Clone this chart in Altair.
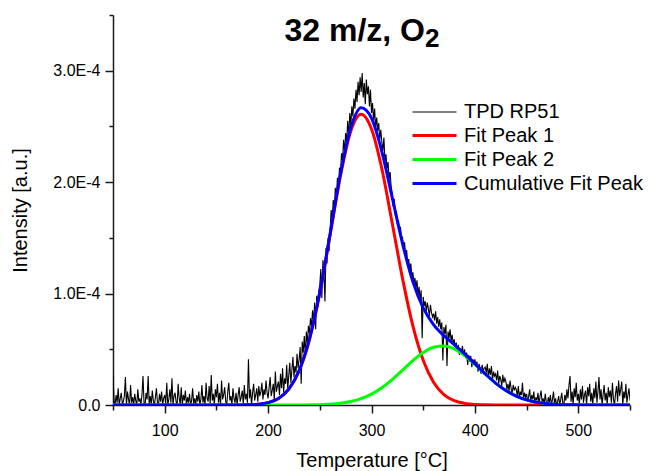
import altair as alt
import pandas as pd

FONT = "Liberation Sans"
UNIT = 1e-6  # all series below are in units of 1E-6 a.u.

# Measured TPD trace, one reading per degree from 50 to 550 °C
TPD_START = 50
TPD_RP51 = [
    27, 4, 0, 9, 2, 15, 0, 6, 11, 1,
    3, 8, 25, 0, 12, 5, 0, 18, 2, 7,
    0, 10, 4, 0, 14, 3, 6, 0, 9, 26,
    2, 0, 11, 5, 26, 1, 8, 0, 13, 4,
    0, 7, 15, 2, 0, 10, 3, 12, 0, 6,
    9, 1, 20, 0, 5, 14, 2, 24, 0, 8,
    11, 3, 0, 19, 6, 1, 16, 0, 9, 4,
    13, 0, 7, 2, 10, 0, 4, 15, 1, 6,
    0, 9, 3, 12, 0, 5, 18, 2, 8, 0,
    20, 6, 3, 17, 1, 27, 4, 10, 0, 14,
    7, 19, 2, 11, 0, 22, 5, 9, 16, 3,
    0, 12, 20, 4, 8, 0, 15, 6, 2, 11,
    0, 9, 16, 3, 7, 13, 1, 18, 5, 10,
    2, 41, 6, 14, 0, 11, 19, 4, 9, 15,
    3, 17, 8, 12, 20, 5, 14, 9, 22, 11,
    6, 16, 25, 8, 13, 19, 4, 30, 12, 17,
    21, 9, 28, 15, 33, 11, 24, 19, 36, 14,
    27, 38, 20, 31, 43, 25, 35, 29, 46, 33,
    41, 52, 19, 57, 47, 62, 44, 66, 55, 71,
    64, 78, 70, 85, 74, 92, 68, 98, 88, 102,
    108, 122, 96, 130, 118, 93, 141, 127, 150, 138,
    158, 175, 166, 184, 172, 195, 181, 204, 190, 213,
    208, 226, 219, 238, 227, 244, 236, 255, 241, 262,
    251, 268, 259, 275, 266, 283, 272, 290, 278, 294,
    281, 298, 276, 289, 270, 292, 279, 286, 268, 283,
    262, 271, 255, 266, 249, 258, 246, 253, 238, 247,
    236, 228, 240, 219, 225, 212, 218, 203, 209, 196,
    190, 178, 185, 170, 174, 162, 166, 155, 160, 148,
    150, 141, 146, 133, 139, 126, 131, 121, 127, 116,
    119, 110, 114, 105, 112, 98, 106, 94, 103, 60,
    97, 89, 93, 84, 92, 86, 80, 90, 83, 79,
    82, 76, 84, 73, 79, 70, 77, 68, 74, 40,
    70, 64, 72, 35, 66, 60, 68, 57, 63, 55,
    59, 52, 56, 48, 54, 45, 51, 47, 53, 44,
    50, 42, 47, 36, 45, 39, 44, 34, 41, 37,
    41, 35, 39, 30, 37, 33, 28, 36, 30, 33,
    34, 29, 37, 25, 33, 27, 35, 22, 30, 26,
    28, 22, 31, 19, 26, 23, 17, 27, 20, 24,
    21, 14, 19, 12, 22, 15, 10, 18, 13, 16,
    14, 8, 17, 6, 12, 9, 20, 5, 11, 7,
    10, 3, 8, 14, 2, 9, 5, 12, 0, 7,
    4, 11, 0, 8, 13, 2, 6, 0, 10, 3,
    0, 7, 2, 9, 0, 5, 12, 1, 6, 0,
    3, 8, 0, 5, 11, 2, 0, 9, 4, 14,
    6, 18, 26, 3, 12, 0, 15, 7, 20, 4,
    10, 0, 14, 5, 17, 2, 9, 13, 0, 16,
    8, 19, 3, 11, 0, 15, 6, 21, 2, 12,
    25, 5, 14, 0, 9, 18, 4, 11, 0, 16,
    7, 13, 2, 20, 5, 0, 10, 17, 3, 22,
    8, 14, 21, 0, 12, 6, 19, 2, 9, 15,
    4,
]

# Fit curves read every 10 °C from 50 to 550 °C
FIT_START, FIT_STEP = 50, 10
FIT_PEAK_1 = [
    0, 0, 0, 0, 0, 0, 0, 0, 0, 0, 0, 0,
    0.05, 0.2, 0.68, 2.1, 5.8, 14.2, 30.7, 59.0, 100.8, 152.9,
    205.7, 245.9, 261.0, 247.7, 212.0, 163.4, 113.6, 71.0, 40.1, 20.4,
    9.34, 3.86, 1.44, 0.48, 0.15, 0.04,
    0, 0, 0, 0, 0, 0, 0, 0, 0, 0, 0, 0, 0,
]
FIT_PEAK_2 = [
    0, 0, 0, 0, 0, 0, 0, 0, 0, 0, 0, 0, 0, 0, 0, 0, 0,
    0.02, 0.05, 0.13, 0.33, 0.75, 1.59, 3.13, 5.75, 9.79, 15.5,
    22.85, 31.3, 39.8, 47.1, 51.8, 52.9, 50.3, 44.4, 36.5, 27.8,
    19.7, 13.0, 7.98, 4.55, 2.41, 1.19, 0.54, 0.23, 0.09, 0.03,
    0, 0, 0, 0,
]
CUMULATIVE_FIT = [
    0, 0, 0, 0, 0, 0, 0, 0, 0, 0, 0, 0,
    0.05, 0.2, 0.68, 2.1, 5.8, 14.2, 30.8, 59.1, 101.1, 153.7,
    207.3, 249.0, 266.8, 257.5, 227.5, 186.3, 144.9, 110.8, 87.2, 72.2,
    62.2, 54.2, 45.8, 37.0, 28.0, 19.7, 13.0, 8.0, 4.55, 2.41,
    1.19, 0.54, 0.23, 0.09, 0.03,
    0, 0, 0, 0,
]

SERIES = ["TPD RP51", "Fit Peak 1", "Fit Peak 2", "Cumulative Fit Peak"]
COLORS = ["#000000", "#ff0000", "#00ff00", "#0000ff"]
WIDTHS = [1.1, 3, 3, 3]

X_DOMAIN = [50, 550]
Y_DOMAIN = [0, 3.5e-4]
X_TICKS = [50, 100, 150, 200, 250, 300, 350, 400, 450, 500, 550]
Y_TICKS = [0, 0.5e-4, 1.0e-4, 1.5e-4, 2.0e-4, 2.5e-4, 3.0e-4, 3.5e-4]

TITLE_MAIN = "32 m/z, O"
TITLE_SUB = "2"

# ---------- tables ----------
tpd_df = pd.DataFrame({
    "temp": [TPD_START + i for i in range(len(TPD_RP51))],
    "value": [v * UNIT for v in TPD_RP51],
    "series": SERIES[0],
})
fit_frames = []
for name, vals in zip(SERIES[1:], [FIT_PEAK_1, FIT_PEAK_2, CUMULATIVE_FIT]):
    fit_frames.append(pd.DataFrame({
        "temp": [FIT_START + FIT_STEP * i for i in range(len(vals))],
        "value": [v * UNIT for v in vals],
        "series": name,
    }))

# ---------- encodings ----------
axis_common = dict(
    grid=False, domainColor="#1a1a1a", domainWidth=1.5, tickColor="#1a1a1a",
    tickWidth=1.5, labelFont=FONT, labelFontSize=16, labelColor="black",
    titleFont=FONT, titleFontSize=20, titleFontWeight="normal", titleColor="black",
    labelFlush=False, labelOverlap=False,
)
x_enc = alt.X(
    "temp:Q",
    scale=alt.Scale(domain=X_DOMAIN, nice=False, zero=False),
    axis=alt.Axis(
        title="Temperature [°C]", values=X_TICKS,
        labelExpr="datum.value % 100 === 0 ? format(datum.value, 'd') : ''",
        tickSize={"condition": {"test": "datum.value % 100 === 0", "value": 8}, "value": 5},
        labelPadding=9, titlePadding=12, **axis_common,
    ),
)
y_enc = alt.Y(
    "value:Q",
    scale=alt.Scale(domain=Y_DOMAIN, nice=False),
    axis=alt.Axis(
        title="Intensity [a.u.]", values=Y_TICKS,
        labelExpr="datum.value == 0 ? '0.0' : (round(datum.value * 1e5) % 10 == 0 ? format(datum.value * 1e4, '.1f') + 'E-4' : '')",
        tickSize={"condition": {"test": "round(datum.value * 1e5) % 10 === 0", "value": 8}, "value": 4},
        labelPadding=5, titlePadding=22, **axis_common,
    ),
)
legend = alt.Legend(
    title=None, orient="none", legendX=309, legendY=85, padding=0,
    symbolType="M-2,0H2", symbolSize=484, labelFont=FONT, labelFontSize=20,
    labelColor="black", labelOffset=17, rowPadding=1, labelLimit=0,
)
color_enc = alt.Color("series:N", scale=alt.Scale(domain=SERIES, range=COLORS), legend=legend)
width_enc = alt.StrokeWidth("series:N", scale=alt.Scale(type="ordinal", domain=SERIES, range=WIDTHS), legend=legend)

tpd_layer = alt.Chart(tpd_df).mark_line(clip=True).encode(
    x=x_enc, y=y_enc, color=color_enc, strokeWidth=width_enc
)
fit_layers = [
    alt.Chart(df).mark_line(interpolate="monotone", clip=True).encode(
        x=x_enc, y=y_enc, color=color_enc, strokeWidth=width_enc
    )
    for df in fit_frames
]

title_main = alt.Chart(pd.DataFrame({"t": [TITLE_MAIN]})).mark_text(
    font=FONT, fontSize=32, fontWeight="bold", align="right", baseline="alphabetic", color="black"
).encode(text="t:N", x=alt.value(312), y=alt.value(25.5))
title_sub = alt.Chart(pd.DataFrame({"t": [TITLE_SUB]})).mark_text(
    font=FONT, fontSize=26, fontWeight="bold", align="left", baseline="alphabetic", color="black"
).encode(text="t:N", x=alt.value(312), y=alt.value(32))

chart = alt.layer(tpd_layer, *fit_layers, title_main, title_sub).properties(
    width=517, height=390,
    autosize=alt.AutoSizeParams(type="none"),
    padding={"left": 113, "top": 15, "right": 19, "bottom": 66},
    background="white",
).configure_view(strokeWidth=0)

chart.save("out.html", embed_options={"renderer": "svg", "actions": False})
